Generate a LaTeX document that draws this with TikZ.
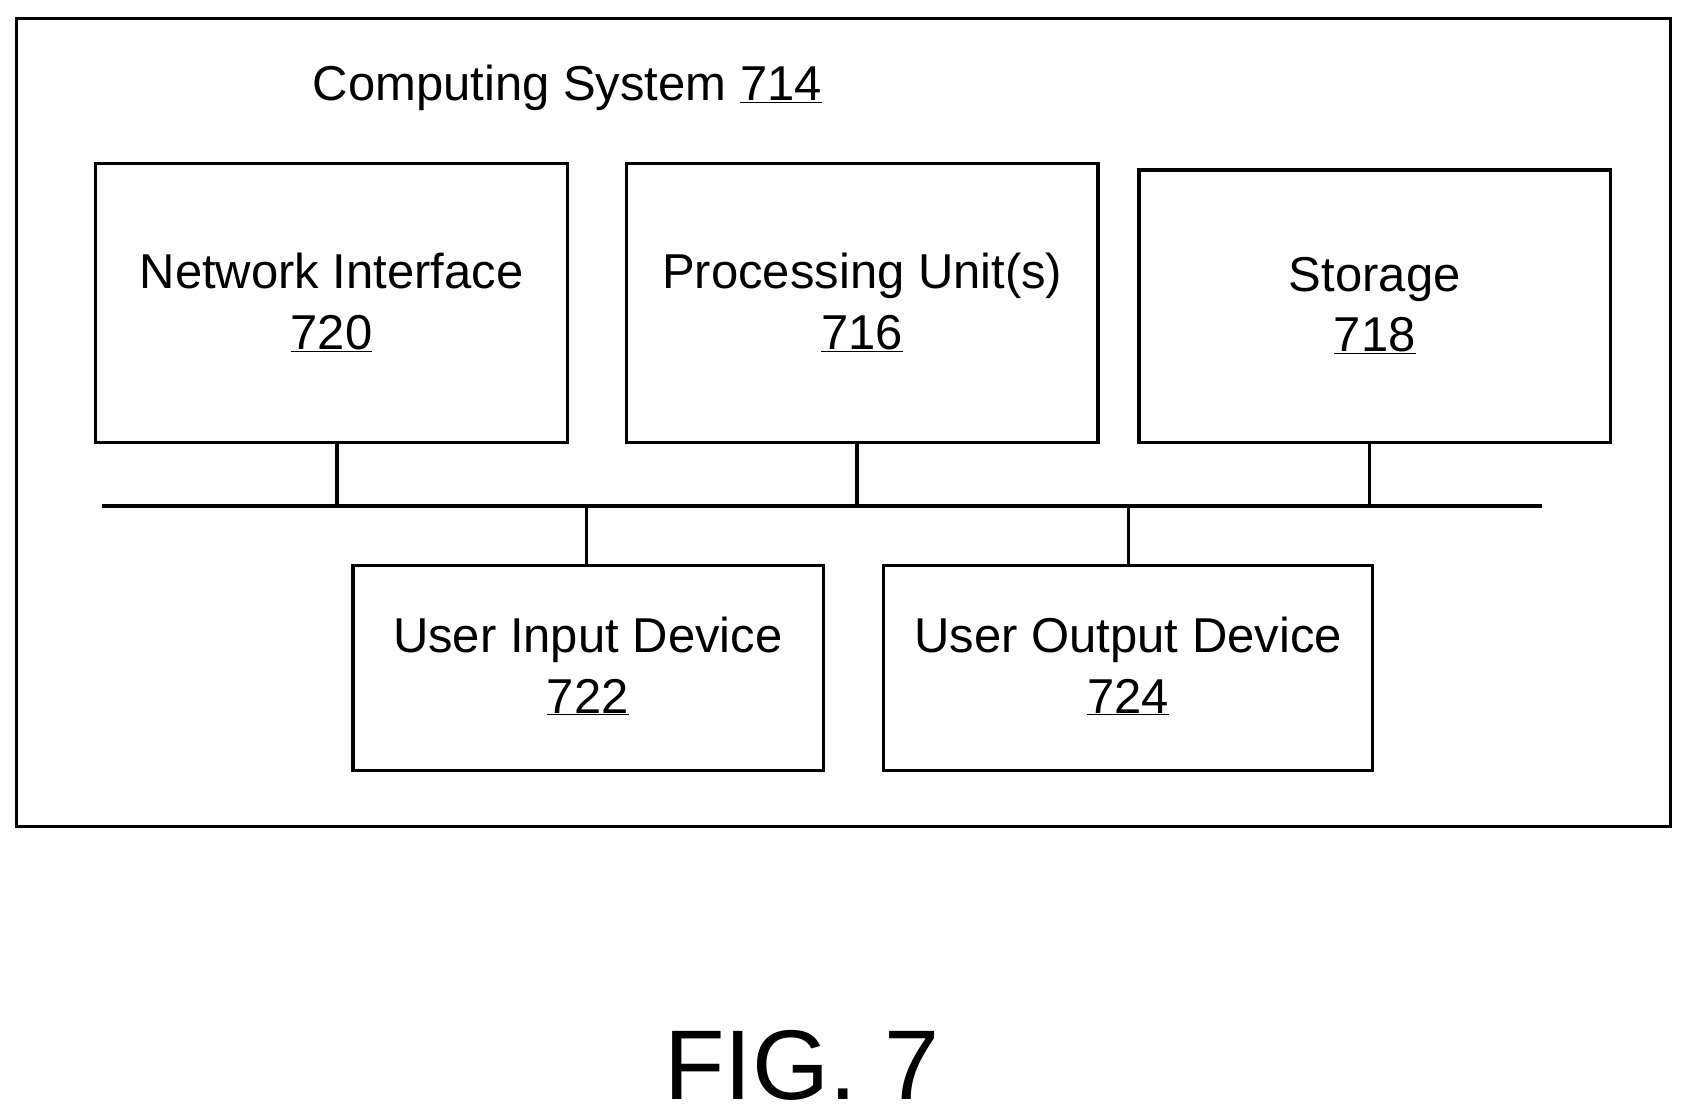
\documentclass[tikz,border=0pt]{standalone}
\usepackage{fontspec}
\setmainfont{Liberation Sans}
\begin{document}
\begin{tikzpicture}[x=1pt,y=-1pt,line width=3pt,
  box/.style={draw,rectangle},
  lbl/.style={font=\fontsize{45.5}{56}\selectfont,align=center,inner sep=0pt}]
\useasboundingbox (0,0) rectangle (1568,1038);
\draw (15,17) rectangle (1552,768);
\node[lbl,anchor=west] (title) at (289,82) {Computing System \underline{714}};
\draw (89,152) rectangle (527,411);
\draw (582,152) rectangle (1020,411);
\draw (1058,158) rectangle (1496,411);
\draw (328,525) rectangle (765,716);
\draw (821,525) rectangle (1275,716);
\node[lbl] (ni) at (308,281) {Network Interface\\\underline{720}};
\node[lbl] (pu) at (801,281) {Processing Unit(s)\\\underline{716}};
\node[lbl] (st) at (1277,284) {Storage\\\underline{718}};
\node[lbl] (ui) at (546,619) {User Input Device\\\underline{722}};
\node[lbl] (uo) at (1048,619) {User Output Device\\\underline{724}};
\coordinate (b1) at (95,470); \coordinate (b2) at (1432,470);
\draw (b1) -- (b2);
\draw (313,411) -- (313,470);
\draw (796,411) -- (796,470);
\draw (1272,411) -- (1272,470);
\draw (545,470) -- (545,525);
\draw (1048,470) -- (1048,525);
\node[inner sep=0pt,font=\fontsize{92}{106}\selectfont] (fig) at (745,990) {FIG. 7};
\end{tikzpicture}
\end{document}
